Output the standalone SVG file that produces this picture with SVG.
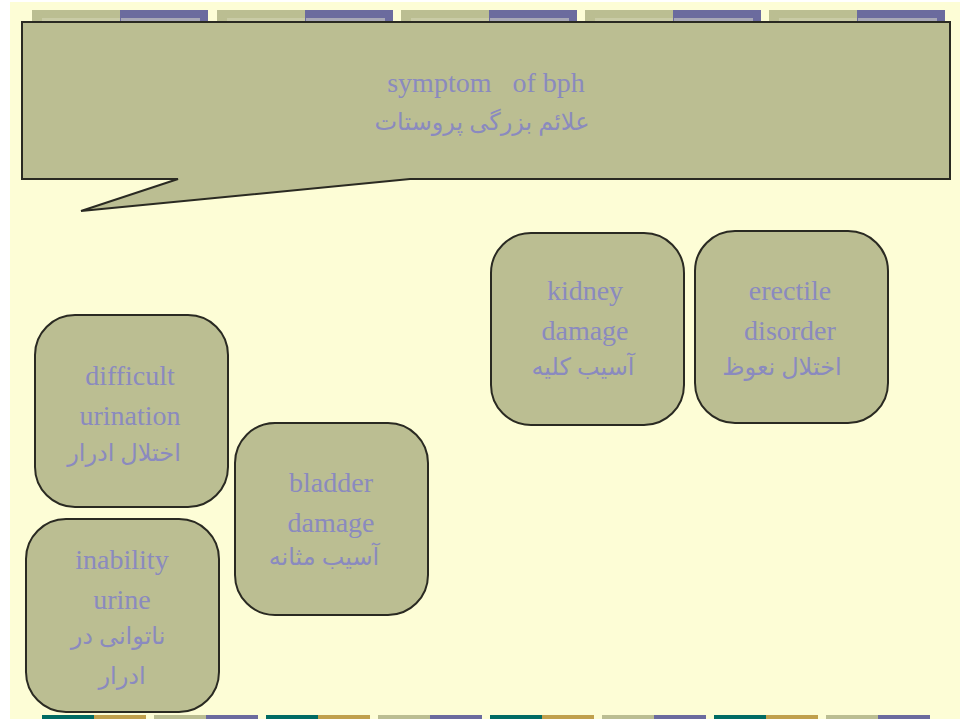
<svg xmlns="http://www.w3.org/2000/svg" width="960" height="719" viewBox="0 0 960 719">
<style>
.node{fill:#bbbe92;stroke:#2a2a22;stroke-width:2}
.en{font-family:"Liberation Serif","Times New Roman",serif;font-size:28px;fill:#8a8abf;text-anchor:middle}
.fa{font-family:"Liberation Serif","DejaVu Sans",serif;font-size:24px;fill:#8a8abf;text-anchor:middle}
.kh{fill:#bbbe92}.pu{fill:#6b6b9e}.te{fill:#006b63}.go{fill:#c0a04c}
.khi{fill:#c9cba6}.pui{fill:#a8a8b6}
</style>
<rect x="0" y="0" width="960" height="719" fill="#ffffff"/>
<rect x="10" y="2" width="950" height="717" fill="#fdfdd6"/>
<g id="topbar">
<rect class="kh" x="32" y="10" width="88" height="14"/><rect class="pu" x="120" y="10" width="88" height="14"/>
<rect class="kh" x="217" y="10" width="88" height="14"/><rect class="pu" x="305" y="10" width="88" height="14"/>
<rect class="kh" x="401" y="10" width="88" height="14"/><rect class="pu" x="489" y="10" width="88" height="14"/>
<rect class="kh" x="585" y="10" width="88" height="14"/><rect class="pu" x="673" y="10" width="88" height="14"/>
<rect class="kh" x="769" y="10" width="88" height="14"/><rect class="pu" x="857" y="10" width="88" height="14"/>
<rect class="khi" x="42" y="18" width="78" height="6"/><rect class="pui" x="121" y="18" width="79" height="6"/>
<rect class="khi" x="227" y="18" width="78" height="6"/><rect class="pui" x="306" y="18" width="79" height="6"/>
<rect class="khi" x="411" y="18" width="78" height="6"/><rect class="pui" x="490" y="18" width="79" height="6"/>
<rect class="khi" x="595" y="18" width="78" height="6"/><rect class="pui" x="674" y="18" width="79" height="6"/>
<rect class="khi" x="779" y="18" width="78" height="6"/><rect class="pui" x="858" y="18" width="79" height="6"/>
</g>
<g id="bottombar">
<rect class="te" x="42" y="715" width="52" height="4"/><rect class="go" x="94" y="715" width="52" height="4"/>
<rect class="kh" x="154" y="715" width="52" height="4"/><rect class="pu" x="206" y="715" width="52" height="4"/>
<rect class="te" x="266" y="715" width="52" height="4"/><rect class="go" x="318" y="715" width="52" height="4"/>
<rect class="kh" x="378" y="715" width="52" height="4"/><rect class="pu" x="430" y="715" width="52" height="4"/>
<rect class="te" x="490" y="715" width="52" height="4"/><rect class="go" x="542" y="715" width="52" height="4"/>
<rect class="kh" x="602" y="715" width="52" height="4"/><rect class="pu" x="654" y="715" width="52" height="4"/>
<rect class="te" x="714" y="715" width="52" height="4"/><rect class="go" x="766" y="715" width="52" height="4"/>
<rect class="kh" x="826" y="715" width="52" height="4"/><rect class="pu" x="878" y="715" width="52" height="4"/>
</g>
<g id="callout">
<path class="node" d="M22 22 H950 V179 H410 L81 211 L178 179 H22 Z"/>
<text class="en" x="486" y="92" xml:space="preserve" style="white-space:pre">symptom   of bph</text>
<text class="fa" x="482" y="130" font-size="27px">علائم بزرگی پروستات</text>
</g>
<g id="difficult-urination">
<rect class="node" x="35" y="315" width="193" height="192" rx="40"/>
<text class="en" x="130" y="385">difficult</text>
<text class="en" x="130" y="425">urination</text>
<text class="fa" x="124" y="461">اختلال ادرار</text>
</g>
<g id="bladder-damage">
<rect class="node" x="235" y="423" width="193" height="192" rx="40"/>
<text class="en" x="331" y="492">bladder</text>
<text class="en" x="331" y="532">damage</text>
<text class="fa" x="324" y="565">آسیب مثانه</text>
</g>
<g id="inability-urine">
<rect class="node" x="26" y="519" width="193" height="193" rx="40"/>
<text class="en" x="122" y="569">inability</text>
<text class="en" x="122" y="609">urine</text>
<text class="fa" x="118" y="644">ناتوانی در</text>
<text class="fa" x="122" y="684">ادرار</text>
</g>
<g id="kidney-damage">
<rect class="node" x="491" y="233" width="193" height="192" rx="40"/>
<text class="en" x="585" y="300">kidney</text>
<text class="en" x="585" y="340">damage</text>
<text class="fa" x="583" y="375">آسیب کلیه</text>
</g>
<g id="erectile-disorder">
<rect class="node" x="695" y="231" width="193" height="192" rx="40"/>
<text class="en" x="790" y="300">erectile</text>
<text class="en" x="790" y="340">disorder</text>
<text class="fa" x="782" y="375">اختلال نعوظ</text>
</g>
</svg>
